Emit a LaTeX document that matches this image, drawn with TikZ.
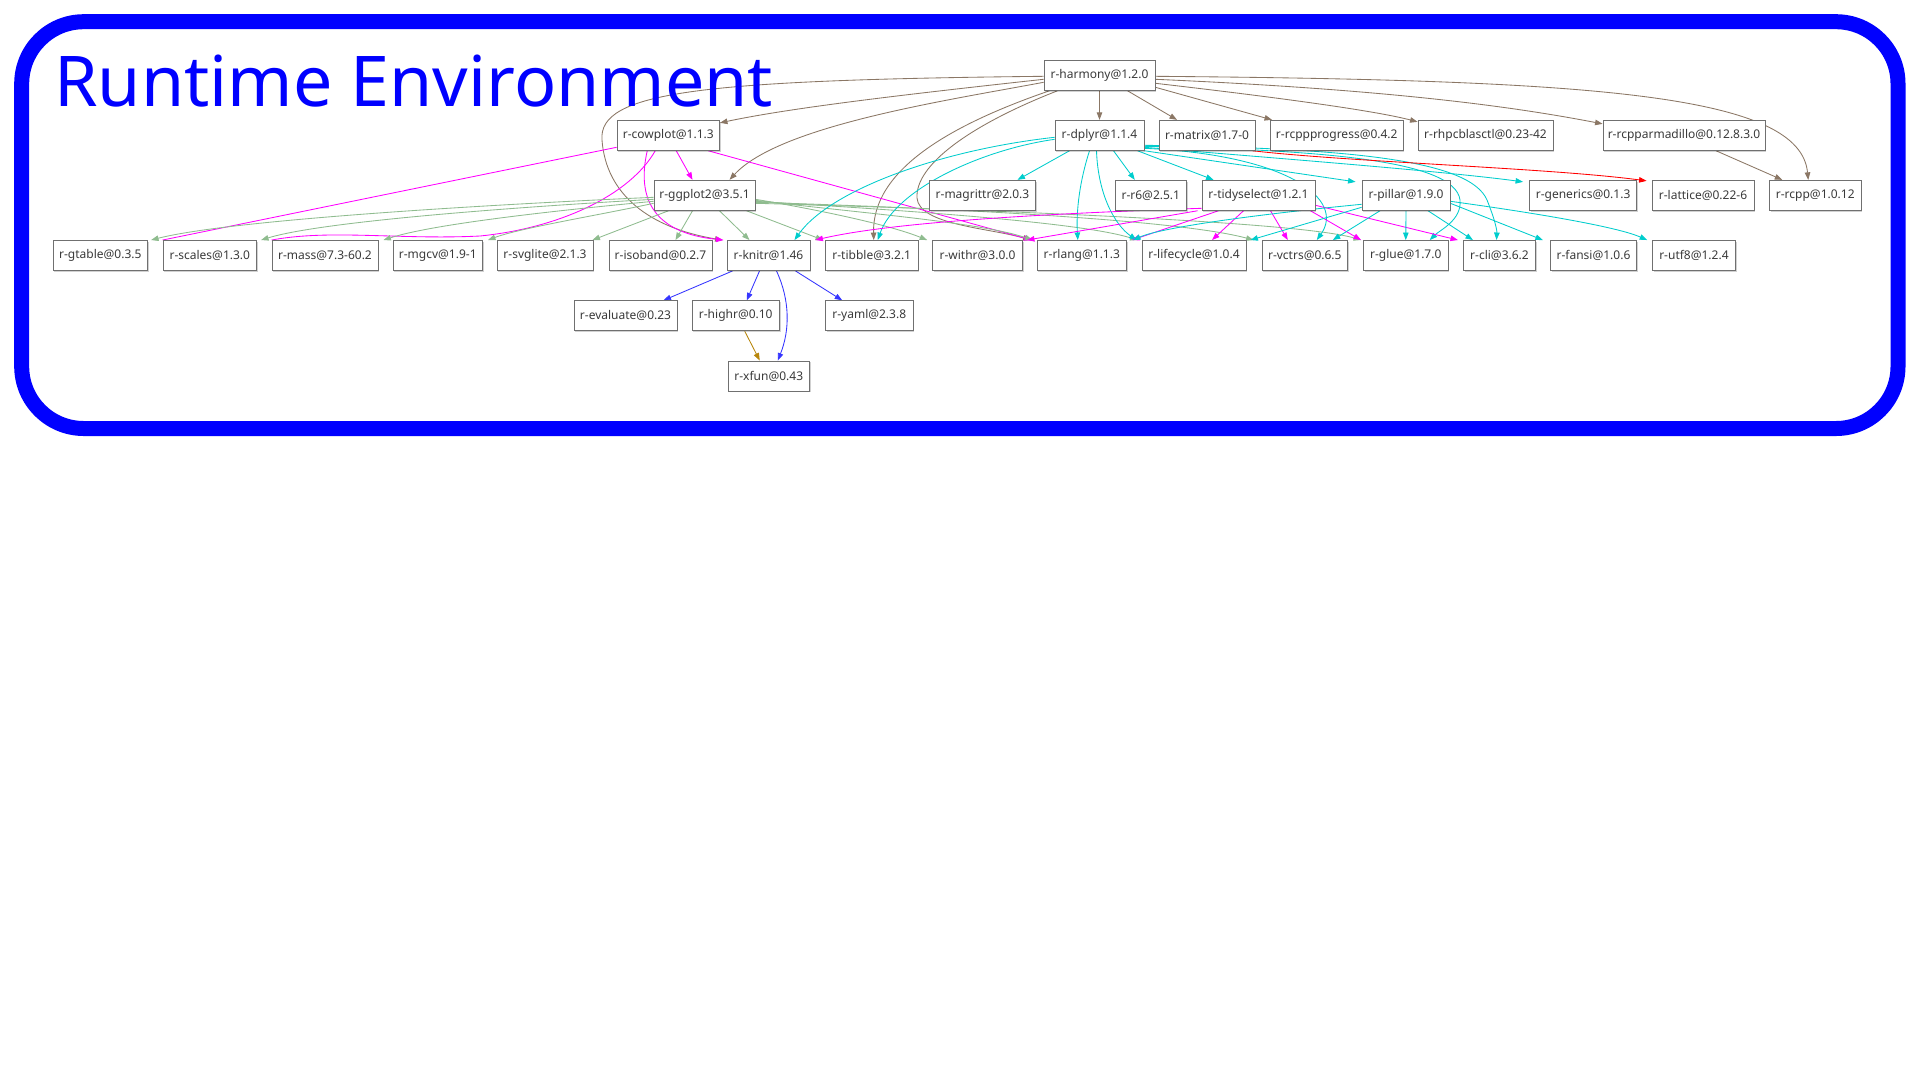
\documentclass[tikz,border=0pt]{standalone}
\usepackage{fontspec}
\setmainfont{Noto Sans}
\usetikzlibrary{arrows.meta,shadows,backgrounds}
\definecolor{cbrown}{HTML}{8B7765}
\definecolor{cmag}{HTML}{FF00FF}
\definecolor{cgreen}{HTML}{8FBC8F}
\definecolor{ccyan}{HTML}{00CDCD}
\definecolor{cred}{HTML}{FF0000}
\definecolor{cblue}{HTML}{3535FF}
\definecolor{cgold}{HTML}{B8860B}
\definecolor{boxline}{HTML}{707070}
\definecolor{boxtext}{HTML}{3A3A3A}
\tikzset{
  pkg/.style={draw=boxline, line width=0.9pt, fill=white, text=boxtext,
    minimum height=30pt, inner sep=0pt, font=\fontsize{12}{14}\selectfont,
    drop shadow={shadow xshift=1.2pt, shadow yshift=-1.2pt, fill=black, opacity=0.18}},
  edgebase/.style={line width=0.85pt, -{Triangle[length=7.5pt,width=5.5pt]}},
  edgeplain/.style={line width=0.85pt},
  eb/.style={edgebase, draw=cbrown},
  em/.style={edgebase, draw=cmag},
  emn/.style={edgeplain, draw=cmag},
  eg/.style={edgebase, draw=cgreen},
  ec/.style={edgebase, draw=ccyan},
  er/.style={edgebase, draw=cred},
  ebl/.style={edgebase, draw=cblue},
  ego/.style={edgebase, draw=cgold},
}
\begin{document}
\begin{tikzpicture}[x=1pt,y=-1pt]
\useasboundingbox (0,0) rectangle (1920,1080);
% frame and title
\draw[blue, line width=15pt, rounded corners=62pt] (21.7,21.7) rectangle (1898,428.5);
\node[anchor=base west, inner sep=0pt, text=blue, font=\fontsize{70}{80}\selectfont] (title) at (54,106) {Runtime Environment};
% row 1
\node[pkg, minimum width=111pt] (harmony) at (1099.5,75.3) {r-harmony@1.2.0};
% row 2
\node[pkg, minimum width=102.5pt] (cowplot) at (668.25,135.3) {r-cowplot@1.1.3};
\node[pkg, minimum width=89pt] (dplyr) at (1099.5,135.3) {r-dplyr@1.1.4};
\node[pkg, minimum width=96pt] (matrix) at (1207,135.3) {r-matrix@1.7-0};
\node[pkg, minimum width=132.5pt] (rcppprogress) at (1336.75,135.3) {r-rcppprogress@0.4.2};
\node[pkg, minimum width=135pt] (rhpcblasctl) at (1485.5,135.3) {r-rhpcblasctl@0.23-42};
\node[pkg, minimum width=162pt] (rcpparmadillo) at (1684,135.3) {r-rcpparmadillo@0.12.8.3.0};
% row 3
\node[pkg, minimum width=101pt] (ggplot2) at (704.5,195.3) {r-ggplot2@3.5.1};
\node[pkg, minimum width=105.7pt] (magrittr) at (982.5,195.3) {r-magrittr@2.0.3};
\node[pkg, minimum width=71.6pt] (r6) at (1150.8,195.3) {r-r6@2.5.1};
\node[pkg, minimum width=113pt] (tidyselect) at (1258.5,195.3) {r-tidyselect@1.2.1};
\node[pkg, minimum width=88pt] (pillar) at (1406,195.3) {r-pillar@1.9.0};
\node[pkg, minimum width=107.2pt] (generics) at (1583.1,195.3) {r-generics@0.1.3};
\node[pkg, minimum width=102pt] (lattice) at (1703,195.3) {r-lattice@0.22-6};
\node[pkg, minimum width=91.5pt] (rcpp) at (1815.25,195.3) {r-rcpp@1.0.12};
% row 4
\node[pkg, minimum width=94.6pt] (gtable) at (100.3,255.5) {r-gtable@0.3.5};
\node[pkg, minimum width=93.6pt] (scales) at (209.8,255.5) {r-scales@1.3.0};
\node[pkg, minimum width=106pt] (mass) at (325,255.5) {r-mass@7.3-60.2};
\node[pkg, minimum width=89.5pt] (mgcv) at (437.75,255.5) {r-mgcv@1.9-1};
\node[pkg, minimum width=96pt] (svglite) at (545,255.5) {r-svglite@2.1.3};
\node[pkg, minimum width=103pt] (isoband) at (660.5,255.5) {r-isoband@0.2.7};
\node[pkg, minimum width=83pt] (knitr) at (768.5,255.5) {r-knitr@1.46};
\node[pkg, minimum width=92.5pt] (tibble) at (871.75,255.5) {r-tibble@3.2.1};
\node[pkg, minimum width=89.9pt] (withr) at (977.55,255.5) {r-withr@3.0.0};
\node[pkg, minimum width=89.6pt] (rlang) at (1081.8,255.5) {r-rlang@1.1.3};
\node[pkg, minimum width=104pt] (lifecycle) at (1194,255.5) {r-lifecycle@1.0.4};
\node[pkg, minimum width=85.6pt] (vctrs) at (1304.8,255.5) {r-vctrs@0.6.5};
\node[pkg, minimum width=84.5pt] (glue) at (1405.75,255.5) {r-glue@1.7.0};
\node[pkg, minimum width=72.2pt] (cli) at (1499.5,255.5) {r-cli@3.6.2};
\node[pkg, minimum width=86.4pt] (fansi) at (1593.5,255.5) {r-fansi@1.0.6};
\node[pkg, minimum width=82.7pt] (utf8) at (1693.95,255.5) {r-utf8@1.2.4};
% row 5
\node[pkg, minimum width=103pt] (evaluate) at (625.5,315.8) {r-evaluate@0.23};
\node[pkg, minimum width=87.5pt] (highr) at (735.75,315.8) {r-highr@0.10};
\node[pkg, minimum width=87.5pt] (yaml) at (869.25,315.8) {r-yaml@2.3.8};
% row 6
\node[pkg, minimum width=81.5pt] (xfun) at (768.75,376) {r-xfun@0.43};

\begin{scope}[on background layer]
\fill[white] (0,0) rectangle (1920,1080);
% harmony (brown)
\draw[eb] ([yshift=-4pt]harmony.west) .. controls (900,95) and (790,108) .. ([yshift=-3pt]cowplot.north east);
\draw[eb] ([yshift=-7pt]harmony.west) .. controls (950,100) and (780,125) .. ([xshift=25pt]ggplot2.north);
\draw[eb] ([yshift=-1pt]harmony.west) .. controls (700,80) and (598,92) .. (602,140) .. controls (606,195) and (650,228) .. ([xshift=-4pt]knitr.north west);
\draw[eb] ([xshift=6pt]harmony.south west) .. controls (950,125) and (872,170) .. ([xshift=2pt]tibble.north);
\draw[eb] ([xshift=14pt]harmony.south west) .. controls (970,125) and (915,165) .. (917,198) .. controls (919,225) and (990,228) .. ([xshift=-6pt]rlang.north west);
\draw[eb] (harmony.south) -- (dplyr.north);
\draw[eb] ([xshift=28pt]harmony.south) -- ([xshift=-30pt]matrix.north);
\draw[eb] ([yshift=-12pt]harmony.east) -- ([xshift=2pt]rcppprogress.north west);
\draw[eb] ([yshift=-8pt]harmony.east) .. controls (1300,100) and (1380,112) .. ([yshift=-2pt]rhpcblasctl.north west);
\draw[eb] ([yshift=-4pt]harmony.east) .. controls (1400,90) and (1520,108) .. ([yshift=-4pt]rcpparmadillo.north west);
\draw[eb] ([yshift=-1pt]harmony.east) .. controls (1600,80) and (1800,95) .. ([xshift=-7pt]rcpp.north);
% cowplot (magenta)
\draw[emn] ([yshift=-12pt]cowplot.west) -- (scales.north west);
\draw[emn] ([xshift=-13pt]cowplot.south) .. controls (630,195) and (560,228) .. (480,236) .. controls (400,240) and (330,229) .. (mass.north west);
\draw[em] ([xshift=8pt]cowplot.south) -- ([xshift=-12pt]ggplot2.north);
\draw[em] ([xshift=-21pt]cowplot.south) .. controls (636,200) and (655,233) .. ([xshift=-3pt]knitr.north west);
\draw[em] ([xshift=40pt]cowplot.south) -- ([xshift=-5pt]rlang.north west);
% ggplot2 (green)
\draw[eg] ([yshift=-2pt]ggplot2.west) .. controls (480,205) and (230,220) .. ([xshift=3pt]gtable.north east);
\draw[eg] ([yshift=-4pt]ggplot2.west) .. controls (500,208) and (320,222) .. ([xshift=4pt]scales.north east);
\draw[eg] ([yshift=-6pt]ggplot2.west) .. controls (540,212) and (430,225) .. ([xshift=5pt]mass.north east);
\draw[eg] ([yshift=-8pt]ggplot2.west) .. controls (600,215) and (520,228) .. ([xshift=5pt]mgcv.north east);
\draw[eg] ([xshift=-36pt]ggplot2.south) -- ([xshift=-1pt]svglite.north east);
\draw[eg] ([xshift=-12pt]ggplot2.south) -- ([xshift=15pt]isoband.north);
\draw[eg] ([xshift=15pt]ggplot2.south) -- ([xshift=-19pt]knitr.north);
\draw[eg] ([xshift=42pt]ggplot2.south) -- ([xshift=-2pt]tibble.north west);
\draw[eg] ([yshift=-4pt]ggplot2.east) .. controls (820,210) and (890,225) .. ([xshift=-5pt]withr.north west);
\draw[eg] ([yshift=-5pt]ggplot2.east) .. controls (850,212) and (980,222) .. ([xshift=-4pt]rlang.north west);
\draw[eg] ([yshift=-6pt]ggplot2.east) .. controls (900,210) and (1080,222) .. ([xshift=-4pt]lifecycle.north west);
\draw[eg] ([yshift=-7pt]ggplot2.east) .. controls (950,208) and (1180,220) .. ([xshift=-8pt]vctrs.north west);
\draw[eg] ([yshift=-8pt]ggplot2.east) .. controls (1000,210) and (1300,222) .. ([xshift=-2pt]glue.north west);
% dplyr (cyan)
\draw[ec] ([xshift=-30pt]dplyr.south) -- ([xshift=35pt]magrittr.north);
\draw[ec] ([xshift=14pt]dplyr.south) -- ([xshift=-16pt]r6.north);
\draw[ec] ([xshift=38pt]dplyr.south) -- ([xshift=-45pt]tidyselect.north);
\draw[ec] (dplyr.south east) -- ([xshift=-6pt,yshift=-2pt]pillar.north west);
\draw[ec] ([yshift=-12pt]dplyr.east) .. controls (1300,160) and (1450,172) .. ([xshift=-6pt,yshift=-2pt]generics.north west);
\draw[ec] ([xshift=-10pt]dplyr.south) .. controls (1080,180) and (1076,210) .. ([xshift=-4pt]rlang.north);
\draw[ec] ([xshift=-3pt]dplyr.south) .. controls (1098,195) and (1115,225) .. ([xshift=-5pt]lifecycle.north west);
\draw[ec] ([yshift=-13pt]dplyr.east) .. controls (1290,155) and (1345,200) .. ([xshift=12pt]vctrs.north);
\draw[ec] ([yshift=-11pt]dplyr.east) .. controls (1320,150) and (1455,160) .. (1460,200) .. controls (1462,220) and (1440,230) .. ([xshift=24pt]glue.north);
\draw[ec] ([yshift=-10pt]dplyr.east) .. controls (1350,148) and (1470,160) .. (1487,200) .. controls (1495,220) and (1497,230) .. ([xshift=-3pt]cli.north);
\draw[ec] ([yshift=-4pt]dplyr.west) .. controls (980,150) and (895,190) .. ([xshift=6pt]tibble.north);
\draw[ec] ([yshift=-2pt]dplyr.west) .. controls (940,150) and (830,190) .. ([xshift=26pt]knitr.north);
% matrix, rcpparmadillo
\draw[er] ([xshift=-3pt]matrix.south east) .. controls (1350,162) and (1550,168) .. ([xshift=-5pt,yshift=-1pt]lattice.north west);
\draw[eb] ([xshift=32pt]rcpparmadillo.south) -- ([xshift=-33pt]rcpp.north);
% tidyselect (magenta)
\draw[em] ([xshift=-4pt]tidyselect.south west) -- ([xshift=4pt]withr.north east);
\draw[em] ([xshift=-40pt]tidyselect.south) -- ([xshift=5pt]rlang.north east);
\draw[em] ([xshift=-15pt]tidyselect.south) -- ([xshift=18pt]lifecycle.north);
\draw[em] ([xshift=12pt]tidyselect.south) -- ([xshift=-17pt]vctrs.north);
\draw[em] ([xshift=-5pt]tidyselect.south east) -- ([xshift=-2pt]glue.north west);
\draw[em] ([yshift=-10pt]tidyselect.east) -- ([xshift=-5pt]cli.north west);
\draw[em] ([yshift=-13pt]tidyselect.west) .. controls (1000,215) and (880,225) .. ([xshift=5pt]knitr.north east);
% pillar (cyan)
\draw[ec] (pillar.south) -- (glue.north);
\draw[ec] ([xshift=22pt]pillar.south) -- ([xshift=10pt]cli.north west);
\draw[ec] ([yshift=-8pt]pillar.east) -- ([xshift=-7pt]fansi.north west);
\draw[ec] ([yshift=-6pt]pillar.east) .. controls (1550,215) and (1620,228) .. ([xshift=-5pt]utf8.north west);
\draw[ec] ([xshift=-26pt]pillar.south) -- ([xshift=28pt]vctrs.north);
\draw[ec] ([yshift=-12pt]pillar.west) -- ([xshift=4pt]lifecycle.north east);
\draw[ec] ([yshift=-9pt]pillar.west) .. controls (1250,215) and (1160,228) .. ([xshift=6pt]rlang.north east);
% knitr (blue), highr (gold)
\draw[ebl] ([xshift=-36pt]knitr.south) -- ([xshift=38pt]evaluate.north);
\draw[ebl] ([xshift=-9pt]knitr.south) -- ([xshift=11pt]highr.north);
\draw[ebl] ([xshift=27pt]knitr.south) -- ([xshift=-27pt]yaml.north);
\draw[ebl] ([xshift=8pt]knitr.south) .. controls (790,300) and (790,330) .. ([xshift=9pt]xfun.north);
\draw[ego] ([xshift=9pt]highr.south) -- ([xshift=-9pt]xfun.north);
\end{scope}
\end{tikzpicture}
\end{document}
